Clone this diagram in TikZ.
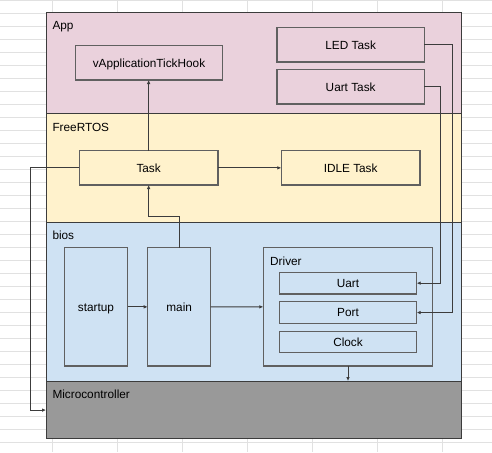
\documentclass[tikz,border=0pt]{standalone}
\usepackage{fontspec}
\setmainfont{Liberation Sans}
\usetikzlibrary{positioning,arrows.meta}
\definecolor{appfill}{HTML}{EAD1DC}
\definecolor{rtosfill}{HTML}{FFF2CC}
\definecolor{biosfill}{HTML}{CFE2F3}
\definecolor{mcufill}{HTML}{999999}
\definecolor{gridgray}{HTML}{E1E1E1}
\definecolor{edgegray}{HTML}{3C3C3C}
\definecolor{boxgray}{HTML}{606060}
\tikzset{
  band/.style={draw=edgegray, line width=0.9pt, anchor=north west, inner sep=0pt, minimum width=414.7pt},
  blk/.style={draw=boxgray, line width=1.1pt, inner sep=0pt, outer sep=0pt, text height=8.5pt, text depth=0pt},
  lbl/.style={anchor=base west, inner sep=0pt},
  conn/.style={draw=edgegray, line width=0.8pt, -{Latex[length=4pt,width=3.6pt]}},
  gridline/.style={draw=gridgray, line width=0.8pt}
}
\begin{document}
\begin{tikzpicture}[x=1pt, y=-1pt, font=\fontsize{11.8}{14}\selectfont]
    \useasboundingbox (0,0) rectangle (492,452);
    \fill[white] (0,0) rectangle (492,452);
    % SHEET GRID
    \foreach \k in {0,...,34}
        \draw[gridline] (0,13*\k+0.5) -- (492,13*\k+0.5);
    \foreach \x in {52,117,...,442}
        \draw[gridline] (\x,0) -- (\x,452);
    % LAYERS
    \node[band, fill=appfill, minimum height=101pt] (app) at (46,12.3) {};
    \node[band, fill=rtosfill, minimum height=109pt] (rtos) at (46,113.3) {};
    \node[band, fill=biosfill, minimum height=158.7pt] (bios) at (46,222.3) {};
    \node[band, fill=mcufill, minimum height=57.3pt] (mcu) at (46,381) {};
    \node[lbl] (applbl) at (52.3,29.3) {App};
    \node[lbl] (rtoslbl) at (52.3,131) {FreeRTOS};
    \node[lbl] (bioslbl) at (52.3,239.3) {bios};
    \node[lbl] (mculbl) at (52.3,398.3) {Microcontroller};
    % APP
    \node[blk, minimum width=147.4pt, minimum height=34.3pt] (hook) at (149,62.85) {vApplicationTickHook};
    \node[blk, minimum width=147.3pt, minimum height=34.3pt] (led) at (350.65,44.85) {LED Task};
    \node[blk, minimum width=147.3pt, minimum height=34.3pt, below=7.7pt of led] (uarttask) {Uart Task};
    % FREERTOS
    \node[blk, minimum width=138.7pt, minimum height=34.3pt] (task) at (148.65,167.85) {Task};
    \node[blk, minimum width=138.7pt, minimum height=34.3pt] (idle) at (350.65,167.85) {IDLE Task};
    % BIOS
    \node[blk, minimum width=63.3pt, minimum height=118.3pt] (startup) at (96,306.85) {startup};
    \node[blk, minimum width=63pt, minimum height=118.3pt, right=20pt of startup] (main) {main};
    \node[blk, anchor=north west, minimum width=169.4pt, minimum height=118.3pt] (driver) at (263.3,247.7) {};
    \node[lbl] (driverlbl) at (270,265) {Driver};
    \node[blk, minimum width=137.4pt, minimum height=21.7pt] (uart) at (348,283.15) {Uart};
    \node[blk, minimum width=137.4pt, minimum height=21.7pt, below=7.7pt of uart] (port) {Port};
    \node[blk, minimum width=137.4pt, minimum height=21.7pt, below=7.7pt of port] (clock) {Clock};
    % CONNECTORS
    \coordinate (jog) at (179.2,216.7);
    \coordinate (lft) at (30.3,0);
    \coordinate (rled) at (452.3,0);
    \coordinate (ruart) at (440,0);
    \draw[conn] (task.north) -- (task.north |- hook.south);
    \draw[conn] (task) -- (idle);
    \draw[conn] (main.north) -- (main.north |- jog) -| (task.south);
    \draw[conn] (startup) -- (main);
    \draw[conn] (main) -- (driver);
    \draw[conn] (task.west) -- (task.west -| lft) |- (mcu.west);
    \draw[conn] (led.east) -- (led.east -| rled) |- (port.east);
    \draw[conn] (uarttask.east) -- (uarttask.east -| ruart) |- (uart.east);
    \draw[conn] (driver.south) -- (driver.south |- mcu.north);
\end{tikzpicture}
\end{document}
